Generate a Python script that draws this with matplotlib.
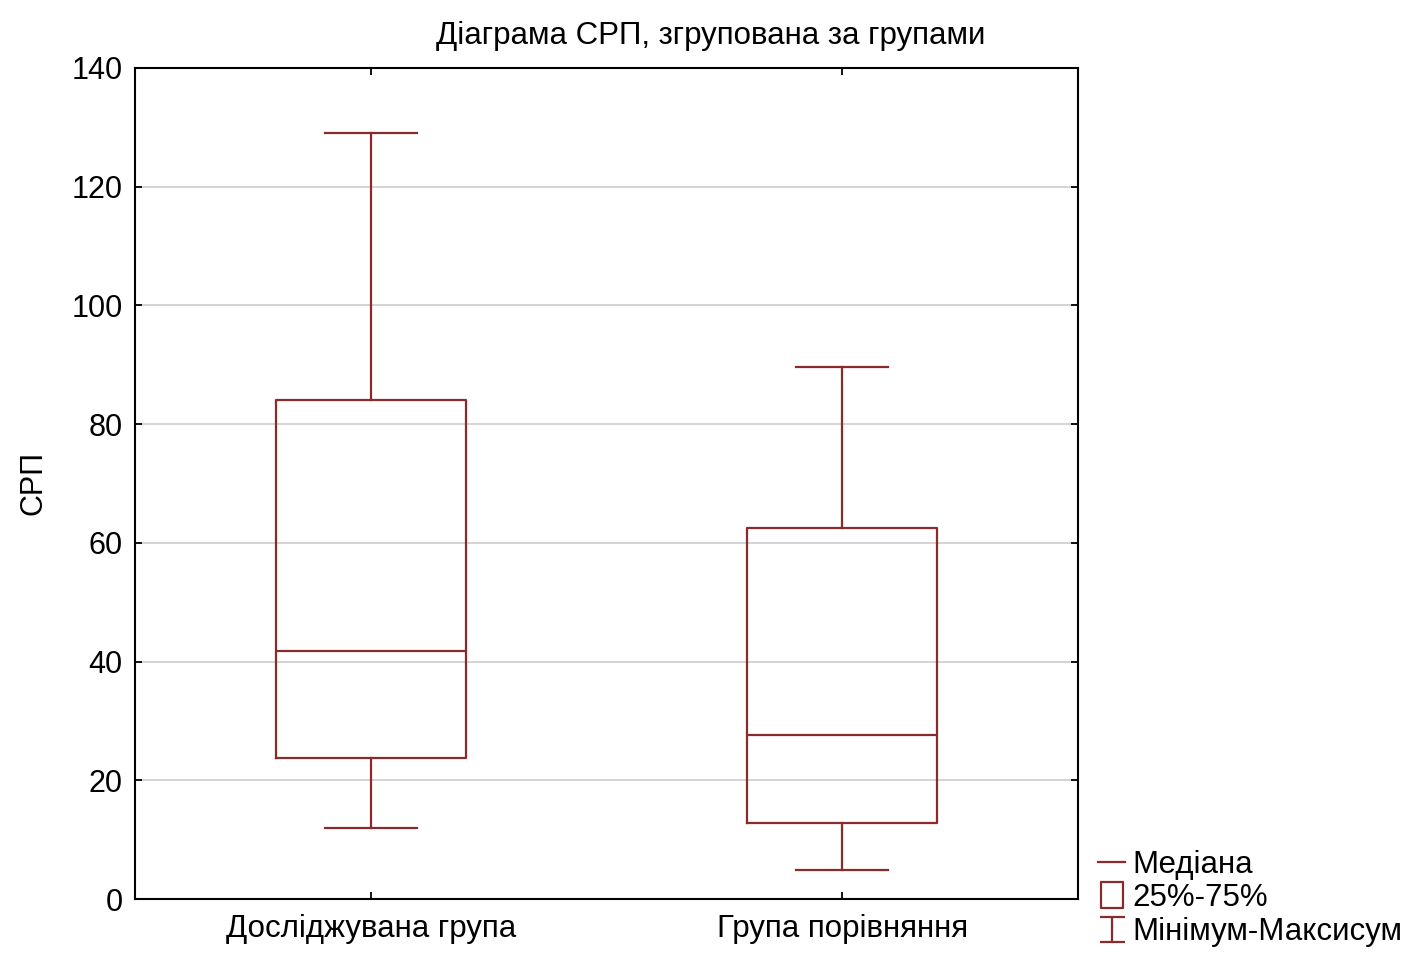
import matplotlib
matplotlib.use('Agg')
import matplotlib.pyplot as plt
from matplotlib.lines import Line2D
from matplotlib.path import Path

plt.rcParams['font.family'] = ['Liberation Sans', 'DejaVu Sans']

groups = ['Досліджувана група', 'Група порівняння']
mins = [12.0, 4.9]
q1s = [23.8, 12.8]
medians = [41.8, 27.6]
q3s = [84.1, 62.5]
maxs = [129.0, 89.7]

col = '#8b2a2a'

stats = []
for i in range(len(groups)):
    stats.append(dict(whislo=mins[i], q1=q1s[i], med=medians[i],
                      q3=q3s[i], whishi=maxs[i], fliers=[], label=groups[i]))

fig = plt.figure(figsize=(14.22, 9.56), dpi=100)
ax = fig.add_axes([0.0949, 0.0596, 0.6633, 0.8693])

lp = dict(color=col, linewidth=1.6)
ax.bxp(stats, positions=[0, 1], widths=0.403, capwidths=0.195,
       showfliers=False, boxprops=lp, medianprops=lp,
       whiskerprops=lp, capprops=lp)

ax.set_xlim(-0.5, 1.5)
ax.set_ylim(0, 140)
ax.set_yticks(range(0, 141, 20))
ax.set_xticks([0, 1])
ax.set_xticklabels(groups)
ax.yaxis.grid(True, color='#d4d4d4', linewidth=1.4)
ax.set_axisbelow(True)
ax.tick_params(direction='in', top=True, right=True, length=5, width=1.3,
               labelsize=22)
ax.tick_params(axis='x', labelsize=22.5, pad=11)
ax.tick_params(axis='y', pad=9)
for s in ax.spines.values():
    s.set_linewidth(1.5)
ax.set_ylabel('СРП', fontsize=22, labelpad=16)

fig.suptitle('Діаграма СРП, згрупована за групами', fontsize=22.5, y=0.978)

# legend symbols
rect = Path([(-0.8, -1), (0.8, -1), (0.8, 1), (-0.8, 1), (-0.8, -1)],
            [Path.MOVETO] + [Path.LINETO] * 3 + [Path.CLOSEPOLY])
ibeam = Path([(-1, 1), (1, 1), (0, 1), (0, -1), (-1, -1), (1, -1)],
             [Path.MOVETO, Path.LINETO, Path.MOVETO, Path.LINETO,
              Path.MOVETO, Path.LINETO])
handles = [
    Line2D([], [], color=col, lw=1.6),
    Line2D([], [], ls='none', marker=rect, markersize=19, markerfacecolor='none',
           markeredgecolor=col, markeredgewidth=1.6),
    Line2D([], [], ls='none', marker=ibeam, markersize=18, markerfacecolor='none',
           markeredgecolor=col, markeredgewidth=1.6),
]
fig.legend(handles, ['Медіана', '25%-75%', 'Мінімум-Максисум'],
           loc='lower left', bbox_to_anchor=(0.757, -0.013), frameon=False,
           fontsize=22.5, handlelength=0.85, handletextpad=0.25,
           labelspacing=0.1, borderaxespad=0.3)

fig.savefig('out.png', dpi=100)
